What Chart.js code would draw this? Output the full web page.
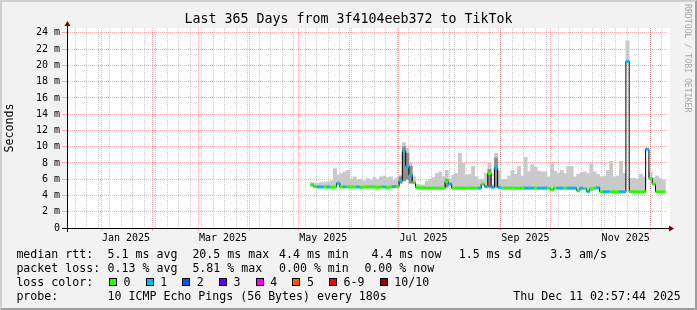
<!DOCTYPE html>
<html>
<head>
<meta charset="utf-8">
<script src="https://cdn.jsdelivr.net/npm/chart.js@4/dist/chart.umd.min.js"></script>
<style>
html, body { margin: 0; padding: 0; background: #f2f2f2; }
#wrap { position: relative; width: 697px; height: 310px; overflow: hidden;
        font-family: 'DejaVu Sans Mono', monospace; color: #000; }
canvas { position: absolute; left: 0; top: 0; }
#title { position: absolute; left: 0; top: 11px; width: 697px; text-align: center;
         font-size: 13.3px; line-height: 16px; white-space: pre; }
#brand { position: absolute; left: 683px; top: 4px; writing-mode: vertical-rl;
         font-size: 8.2px; color: #a8a8a8; white-space: pre; }
.t { position: absolute; white-space: pre; font-size: 11.6px; line-height: 14px; }
.box { position: absolute; width: 8px; height: 8px; box-sizing: border-box; border: 1px solid #000; }
#frame { position: absolute; left: 0; top: 0; right: 0; bottom: 0; border-style: solid; border-width: 2px;
         border-color: #cfcfcf #9e9e9e #9e9e9e #cfcfcf; pointer-events: none; }
</style>
</head>
<body>
<div id="wrap">
  <canvas id="c" width="697" height="310"></canvas>
  <div id="title">Last 365 Days from 3f4104eeb372 to TikTok</div>
  <div id="brand">RRDTOOL / TOBI OETIKER</div>
  <div id="legend"></div>
  <div id="frame"></div>
</div>
<script>
// time range: last 365 days ending Thu Dec 11 02:57:44 2025
const T0 = new Date(2024, 11, 11, 2, 57, 44).getTime()
const dayOf = d => (d.getTime() - T0) / 864e5

// tick labels (every other month)
const tickLabels = ['Jan 2025', 'Mar 2025', 'May 2025', 'Jul 2025', 'Sep 2025', 'Nov 2025']
const tickMonths = [0, 2, 4, 6, 8, 10]

// data bins: 2 days each, first bin starts at day 148 (May 8 2025)
const FIRST_DAY = 148
const BIN_DAYS = 2

// top of the smoke (slowest pings), ms
const smokeTop = [
  5.6,5.5,5.5,5.6,5.6,5.7,5.8,7.3,6.5,6.7,
  6.9,7.1,6.0,6.3,5.9,6.0,5.8,6.1,5.9,6.2,
  6.0,6.3,6.4,6.2,6.3,5.9,6.2,6.5,10.5,9.8,
  8.0,6.3,5.4,5.3,5.3,5.8,6.0,6.2,6.7,6.9,
  6.3,7.1,6.0,6.5,6.7,9.2,8.0,6.5,6.6,7.6,
  6.3,5.9,6.0,6.7,8.0,5.3,9.2,7.0,6.0,6.0,
  6.4,7.1,6.6,7.6,6.4,8.7,6.9,7.8,7.5,7.0,
  6.9,6.9,6.3,7.9,7.0,6.7,7.1,6.7,7.6,7.6,
  6.3,6.6,6.8,6.9,6.7,7.9,6.9,6.6,6.3,6.4,
  7.1,8.2,6.3,6.4,8.2,6.7,23.0,6.1,6.1,6.0,
  6.6,6.3,9.8,6.9,6.2,6.4,6.1,5.9
]

// median rtt, ms
const median = [
  5.3,5.1,5.05,5.05,5.05,5.05,5.0,5.05,5.5,5.05,
  5.05,5.05,5.05,5.05,5.05,5.0,5.05,5.05,5.05,5.05,
  5.0,5.05,5.05,4.95,5.05,5.1,5.1,5.8,9.5,7.6,
  6.5,5.6,5.0,4.95,4.95,4.9,4.9,4.9,4.9,4.9,
  4.9,5.7,5.4,4.9,4.9,4.9,4.9,4.9,4.9,4.9,
  4.9,4.9,5.4,5.1,6.7,5.0,7.4,5.0,4.9,4.9,
  4.9,4.9,4.9,4.9,4.9,4.9,4.9,4.9,4.9,4.9,
  4.9,4.9,4.9,4.7,4.9,4.9,4.9,4.9,4.9,4.9,
  4.9,4.6,4.9,4.85,4.5,4.8,4.9,4.95,4.45,4.45,
  4.45,4.45,4.45,4.45,4.45,4.45,20.5,4.45,4.45,4.45,
  4.45,4.45,9.7,6.1,5.4,4.45,4.45,4.45
]

// lost pings out of 10 per bin
const loss = [
  0,0,1,1,0,1,0,0,1,0,
  1,0,0,0,1,0,0,0,0,0,
  0,0,1,0,0,1,0,1,1,1,
  1,0,0,0,0,0,0,0,0,0,
  0,0,1,0,0,0,0,0,0,0,
  0,1,0,1,0,1,1,1,0,0,
  0,0,0,0,0,1,1,1,0,1,
  1,1,0,0,0,1,1,0,1,1,
  1,0,1,0,1,0,0,1,0,1,
  1,0,0,0,1,1,1,0,0,0,
  0,0,1,0,0,0,0,0
]

// dense smoke around the spikes
const darkBins = [27, 28, 29, 30, 41, 54, 56]
const darkLow  = [5.5, 5.8, 6.0, 5.5, 5.0, 5.0, 5.0]
const darkHigh = [6.3, 10.0, 9.2, 7.6, 6.0, 7.2, 8.6]

const lossLabels = ['0', '1', '2', '3', '4', '5', '6-9', '10/10']
const lossColors = ['#26ff00', '#00b8ff', '#0059ff', '#5e00ff', '#ff00ff', '#ff5500', '#ff0000', '#a10000']

const binX = i => FIRST_DAY + BIN_DAYS * i + BIN_DAYS / 2

const smokePts = smokeTop.map((v, i) => ({x: binX(i), y: [median[i], v]}))
const darkPts = darkBins.map((b, k) => ({x: binX(b), y: [darkLow[k], darkHigh[k]]}))
const medianPts = median.map((v, i) => ({x: binX(i), y: v}))
const medianCol = loss.map(l => lossColors[l])

// grid positions
const monthDays = []
for (let m = 0; m < 12; m++) monthDays.push(dayOf(new Date(2025, m, 1)))
const labelDays = tickMonths.map(m => dayOf(new Date(2025, m, 16)))
const weekDays = []
for (let d = new Date(2024, 11, 16); dayOf(d) < 365; d.setDate(d.getDate() + 7)) weekDays.push(dayOf(d))

const FONT = 'DejaVu Sans Mono'
const RED = 'rgba(255,40,40,0.38)'
const GRAY = 'rgba(0,0,0,0.2)'

const plotBg = {
    id: 'plotBg',
    beforeDraw(chart) {
        const {ctx, chartArea: a} = chart
        ctx.save()
        ctx.fillStyle = '#fff'
        ctx.fillRect(a.left, a.top, a.width + 3, a.height)
        ctx.restore()
    }
}

const arrows = {
    id: 'arrows',
    afterDraw(chart) {
        const {ctx, chartArea: a} = chart
        ctx.save()
        ctx.strokeStyle = '#000'
        ctx.lineWidth = 1
        ctx.beginPath()
        ctx.moveTo(a.left - 5, a.bottom + 0.5); ctx.lineTo(a.right + 4, a.bottom + 0.5)
        ctx.moveTo(a.left + 0.5, a.bottom + 4); ctx.lineTo(a.left + 0.5, a.top - 3)
        ctx.stroke()
        ctx.fillStyle = '#7f0000'
        ctx.beginPath()
        ctx.moveTo(a.left - 2.5, a.top - 2); ctx.lineTo(a.left + 3.5, a.top - 2); ctx.lineTo(a.left + 0.5, a.top - 7)
        ctx.closePath(); ctx.fill()
        ctx.beginPath()
        ctx.moveTo(a.right + 2, a.bottom - 2.5); ctx.lineTo(a.right + 2, a.bottom + 3.5); ctx.lineTo(a.right + 7, a.bottom + 0.5)
        ctx.closePath(); ctx.fill()
        ctx.restore()
    }
}

function gridAxis(days, color, tick) {
    return {
        type: 'linear', position: 'bottom', min: 0, max: 365, weight: 0,
        grid: {color: color, lineWidth: 1, drawTicks: tick > 0, tickLength: tick, offset: false},
        border: {display: false, dash: [1, 1]},
        ticks: {display: false, autoSkip: false},
        afterBuildTicks: s => { s.ticks = days.map(v => ({value: v})) },
        afterFit: s => { s.height = 0 }
    }
}

new Chart(document.getElementById('c'), {
    type: 'line',
    data: {
        datasets: [
            {type: 'line', label: 'loss color', data: medianPts, showLine: false, pointStyle: 'line',
             pointRadius: 1.7, pointBorderWidth: 3, pointBorderColor: medianCol, pointHoverRadius: 1.7, order: 1},
            {type: 'line', label: 'median', data: medianPts, borderColor: '#000', borderWidth: 1,
             stepped: 'middle', pointRadius: 0, order: 2},
            {type: 'bar', label: 'smoke dense', data: darkPts, backgroundColor: '#8e8e8e',
             grouped: false, barPercentage: 1, categoryPercentage: 1, order: 3},
            {type: 'bar', label: 'smoke', data: smokePts, backgroundColor: '#c9c9c9',
             grouped: false, barPercentage: 1, categoryPercentage: 1, order: 4}
        ]
    },
    options: {
        responsive: false,
        animation: false,
        devicePixelRatio: 1,
        layout: {padding: {left: 0, right: 30, top: 28, bottom: 0}},
        plugins: {legend: {display: false}, tooltip: {enabled: false}, title: {display: false}},
        scales: {
            xMonth: gridAxis(monthDays, RED, 3),
            xWeek: gridAxis(weekDays, GRAY, 0),
            x: {
                type: 'linear', position: 'bottom', min: 0, max: 365, weight: 1, offset: false,
                grid: {display: false, drawTicks: false, offset: false},
                border: {display: true, color: '#000', width: 1},
                ticks: {autoSkip: false, maxRotation: 0, padding: 4, color: '#000',
                        font: {family: FONT, size: 10}, callback: (v, i) => tickLabels[i]},
                afterBuildTicks: s => { s.ticks = labelDays.map(v => ({value: v})) },
                afterFit: s => { s.height = 82 }
            },
            y: {
                min: 0, max: 24.6,
                ticks: {stepSize: 1, includeBounds: false, padding: 2, color: '#000',
                        font: {family: FONT, size: 10},
                        callback: v => v % 2 ? '' : (v === 0 ? '0' : v + ' m')},
                grid: {color: c => (c.tick && c.tick.value % 2 === 0) ? RED : GRAY, tickLength: 5, lineWidth: 1},
                border: {display: true, color: '#404040', dash: [1, 1]},
                title: {display: true, text: 'Seconds', color: '#000', font: {family: FONT, size: 11.6},
                        padding: {top: 3, bottom: 0}},
                afterFit: s => { s.width = 67 }
            }
        }
    },
    plugins: [plotBg, arrows]
})

// legend block under the chart
const legend = document.getElementById('legend')
function txt(x, yc, s) {
    const el = document.createElement('div')
    el.className = 't'
    el.style.left = x + 'px'
    el.style.top = (yc - 7) + 'px'
    el.textContent = s
    legend.appendChild(el)
}
const rows = [
    [254, [[16.4, 'median rtt:'], [107.6, '5.1 ms avg'], [192.4, '20.5 ms max'], [279, '4.4 ms min'],
           [371.6, '4.4 ms now'], [458.7, '1.5 ms sd'], [550.2, '3.3'], [579.1, 'am/s']]],
    [268, [[16.4, 'packet loss:'], [107.6, '0.13 % avg'], [192.4, '5.81 % max'], [279, '0.00 % min'],
           [364.4, '0.00 % now']]],
    [282, [[16.4, 'loss color:']]],
    [296, [[16.4, 'probe:'], [107.6, '10 ICMP Echo Pings (56 Bytes) every 180s'], [513.3, 'Thu Dec 11 02:57:44 2025']]]
]
rows.forEach(([yc, items]) => items.forEach(([x, s]) => txt(x, yc, s)))

let lx = 109
lossLabels.forEach((lab, i) => {
    const b = document.createElement('div')
    b.className = 'box'
    b.style.left = lx + 'px'
    b.style.top = '278px'
    b.style.background = lossColors[i]
    legend.appendChild(b)
    txt(lx + 14.5, 282, lab)
    lx += 14.5 + 6.98 * lab.length + 15.2
})
</script>
</body>
</html>
